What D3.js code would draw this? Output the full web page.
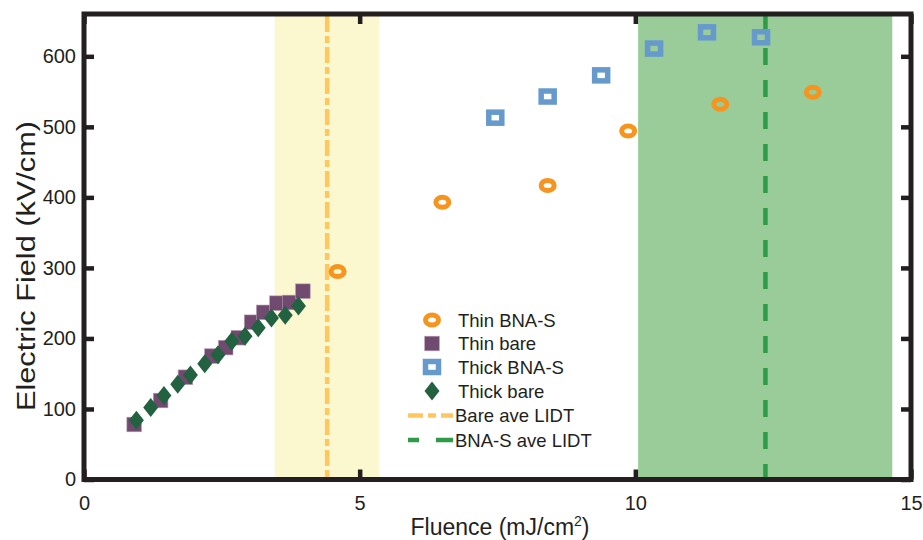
<!DOCTYPE html>
<html>
<head>
<meta charset="utf-8">
<script src="https://cdn.jsdelivr.net/npm/d3@7"></script>
<style>
  body { margin: 0; background: #fff; }
  text { font-family: "Liberation Sans", Arial, sans-serif; fill: #231f20; }
</style>
</head>
<body>
<div id="chart"></div>
<script>
// data
const thinBnaS   = [[4.60,295],[6.50,393],[8.41,417],[9.87,494],[11.54,532],[13.22,549]];
const thickBnaS  = [[7.46,513],[8.41,543],[9.38,573],[10.34,611],[11.30,634],[12.28,627]];
const thinBare   = [[0.91,78],[1.39,112],[1.84,145],[2.32,175],[2.57,187],[2.80,201],[3.04,223],[3.26,237],[3.50,250],[3.73,251],[3.97,267]];
const thickBare  = [[0.95,84],[1.21,102],[1.45,119],[1.70,135],[1.93,148],[2.19,164],[2.43,177],[2.68,196],[2.92,203],[3.16,215],[3.40,229],[3.65,233],[3.89,246]];
const bareBand   = [3.46, 5.36];
const bnaBand    = [10.05, 14.66];
const bareLidt   = 4.41;
const bnaLidt    = 12.36;
const xTicks = [0, 5, 10, 15];
const yTicks = [0, 100, 200, 300, 400, 500, 600];
const legendLabels = ["Thin BNA-S","Thin bare","Thick BNA-S","Thick bare","Bare ave LIDT","BNA-S ave LIDT"];

const W = 923, H = 540;
const pL = 84, pR = 911, pT = 14, pB = 479.5;

const svg = d3.select("#chart").append("svg")
    .attr("width", W).attr("height", H);

const x = d3.scaleLinear().domain([0, 15]).range([pL, pR]);
const y = d3.scaleLinear().domain([0, 660]).range([pB, pT]);

//bands
svg.append("rect").attr("x", x(bareBand[0])).attr("y", pT)
    .attr("width", x(bareBand[1]) - x(bareBand[0])).attr("height", pB - pT)
    .style("fill", "#fbf7cf");
svg.append("rect").attr("x", x(bnaBand[0])).attr("y", pT)
    .attr("width", x(bnaBand[1]) - x(bnaBand[0])).attr("height", pB - pT)
    .style("fill", "#99cc99");

//LIDT lines
svg.append("line").attr("x1", x(bareLidt)).attr("x2", x(bareLidt))
    .attr("y1", pT + 2).attr("y2", pB)
    .style("stroke", "#ffc75e").style("stroke-width", 4.5)
    .style("stroke-dasharray", "16,4,7,4");
svg.append("line").attr("x1", x(bnaLidt)).attr("x2", x(bnaLidt))
    .attr("y1", pT + 2).attr("y2", pB)
    .style("stroke", "#2e9c47").style("stroke-width", 4.5)
    .style("stroke-dasharray", "17,15");

// marker drawers
function ring(g) {
    g.append("ellipse").attr("rx", 6.5).attr("ry", 5)
        .style("fill", "none").style("stroke", "#f7941d").style("stroke-width", 5);
}
function hollowSquare(g) {
    g.append("rect").attr("x", -6.5).attr("y", -5.5).attr("width", 13).attr("height", 11)
        .style("fill", "none").style("stroke", "#6699cc").style("stroke-width", 5.5);
}
function solidSquare(g) {
    g.append("rect").attr("x", -7.3).attr("y", -7.3).attr("width", 14.6).attr("height", 14.6)
        .style("fill", "#704a6f").style("stroke", "#b79ab5").style("stroke-width", 0.6);
}
function diamond(g) {
    g.append("path").attr("d", "M0,-9.5L7.5,0L0,9.5L-7.5,0Z")
        .style("fill", "#236240");
}

function drawSeries(data, fn) {
    svg.append("g").selectAll("g")
        .data(data)
        .enter().append("g")
        .attr("transform", d => "translate(" + x(d[0]) + "," + y(d[1]) + ")")
        .each(function(){ fn(d3.select(this)); });
}

drawSeries(thinBnaS, ring);
drawSeries(thickBnaS, hollowSquare);
drawSeries(thinBare, solidSquare);
drawSeries(thickBare, diamond);

//axes
const xAxis = svg.append("g").attr("transform", "translate(0," + pB + ")")
    .call(d3.axisBottom(x).tickValues(xTicks).tickSize(-10).tickPadding(16).tickFormat(d3.format("d")));
const xAxisTop = svg.append("g").attr("transform", "translate(0," + pT + ")")
    .call(d3.axisTop(x).tickValues(xTicks).tickSize(-10).tickFormat(""));
const yAxis = svg.append("g").attr("transform", "translate(" + pL + ",0)")
    .call(d3.axisLeft(y).tickValues(yTicks).tickSize(-10).tickPadding(8));
const yAxisRight = svg.append("g").attr("transform", "translate(" + pR + ",0)")
    .call(d3.axisRight(y).tickValues(yTicks).tickSize(-10).tickFormat(""));

[xAxis, xAxisTop, yAxis, yAxisRight].forEach(a => {
    a.select(".domain").remove();
    a.selectAll("line").style("stroke", "#231f20").style("stroke-width", 4.5);
    a.selectAll("text").style("font-size", "20px").style("fill", "#231f20")
        .style("font-family", "'Liberation Sans', Arial, sans-serif");
});

svg.append("rect").attr("x", pL).attr("y", pT)
    .attr("width", pR - pL).attr("height", pB - pT)
    .style("fill", "none").style("stroke", "#231f20").style("stroke-width", 5);

// axis titles
const xt = svg.append("text").attr("x", 500).attr("y", 535)
    .attr("text-anchor", "middle").style("font-size", "23px");
xt.append("tspan").text("Fluence (mJ/cm");
xt.append("tspan").attr("dy", -9).style("font-size", "14px").text("2");
xt.append("tspan").attr("dy", 9).text(")");

svg.append("text").attr("transform", "translate(35,266) rotate(-90)")
    .attr("text-anchor", "middle").style("font-size", "25px")
    .attr("textLength", 290).attr("lengthAdjust", "spacingAndGlyphs")
    .text("Electric Field (kV/cm)");

//legend
const legendY = [320, 343.5, 367, 391, 415.5, 440];
const legendOrder = [ring, solidSquare, hollowSquare, diamond];
const leg = svg.append("g");
legendLabels.forEach((lab, i) => {
    const row = leg.append("g").attr("transform", "translate(0," + legendY[i] + ")");
    if (i < 4) {
        const m = row.append("g").attr("transform", "translate(432,0)");
        legendOrder[i](m);
    } else if (i == 4) {
        row.append("line").attr("x1", 408).attr("x2", 453)
            .style("stroke", "#ffc75e").style("stroke-width", 4.5)
            .style("stroke-dasharray", "15,5,8,5");
    } else {
        row.append("line").attr("x1", 408).attr("x2", 453)
            .style("stroke", "#2e9c47").style("stroke-width", 4.5)
            .style("stroke-dasharray", "11,17,17");
    }
    row.append("text").attr("x", i < 4 ? 458 : 455).attr("y", 0).attr("dy", "0.36em")
        .style("font-size", "18.5px").text(lab);
});
</script>
</body>
</html>
